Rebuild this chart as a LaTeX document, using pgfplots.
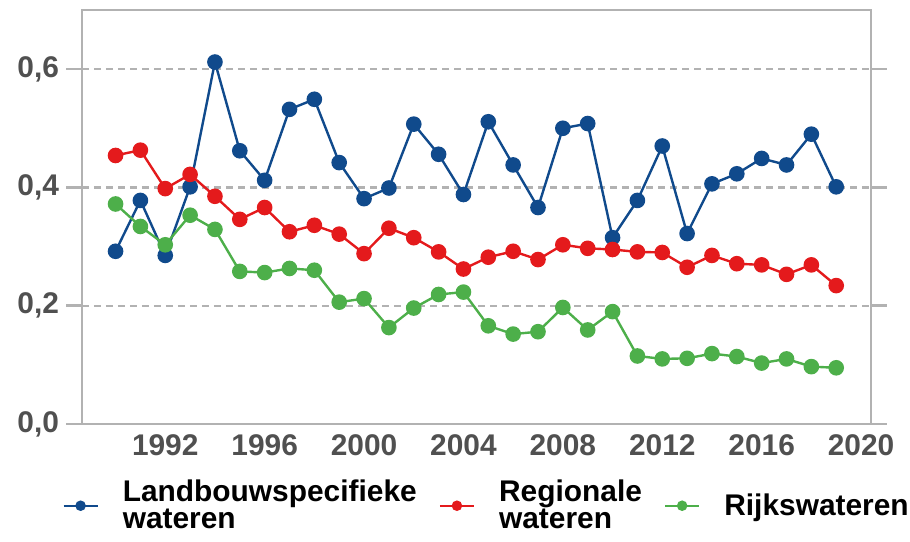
\documentclass[border=0pt]{standalone}
\usepackage{fontspec}
\setmainfont{Liberation Sans}
\usepackage{pgfplots}
\pgfplotsset{compat=1.18}

\definecolor{cblue}{RGB}{16,74,140}
\definecolor{cred}{RGB}{228,26,28}
\definecolor{cgreen}{RGB}{77,175,74}
\definecolor{axgray}{RGB}{178,178,178}
\definecolor{tickgray}{RGB}{80,80,80}

\pgfplotstableread{
year  land   regio  rijk
1990  0.292  0.454  0.372
1991  0.378  0.463  0.334
1992  0.285  0.398  0.303
1993  0.401  0.422  0.353
1994  0.612  0.385  0.329
1995  0.462  0.346  0.258
1996  0.412  0.366  0.256
1997  0.532  0.325  0.263
1998  0.549  0.336  0.260
1999  0.442  0.321  0.206
2000  0.381  0.288  0.212
2001  0.399  0.331  0.163
2002  0.507  0.315  0.196
2003  0.456  0.291  0.219
2004  0.388  0.262  0.223
2005  0.511  0.282  0.166
2006  0.438  0.292  0.152
2007  0.366  0.278  0.156
2008  0.500  0.303  0.197
2009  0.508  0.297  0.159
2010  0.315  0.295  0.190
2011  0.378  0.291  0.115
2012  0.470  0.290  0.110
2013  0.322  0.265  0.111
2014  0.406  0.285  0.119
2015  0.423  0.271  0.114
2016  0.449  0.269  0.103
2017  0.438  0.253  0.110
2018  0.490  0.269  0.097
2019  0.401  0.234  0.095
}\datatable

\begin{document}
\begin{tikzpicture}
\begin{axis}[
    width=394.5bp, height=207bp, scale only axis,
    xmin=1988.65, xmax=2020.4,
    ymin=0, ymax=0.7,
    xtick={1992,1996,...,2020},
    ytick={0,0.2,0.4,0.6},
    axis line style={draw=axgray, line width=1.3bp},
    tick align=outside,
    major tick length=8bp,
    xtick style={draw=none},
    ytick style={draw=axgray, line width=1.3bp},
    /pgf/number format/assume math mode=true,
    ticklabel style={font=\bfseries\fontsize{15}{18}\selectfont, text=tickgray},
    xticklabel style={/pgf/number format/1000 sep={}, yshift=6bp},
    yticklabel style={/pgf/number format/.cd, use comma, fixed, fixed zerofill, precision=1},
    ymajorgrids,
    grid style={draw=axgray, line width=1.1bp, dash pattern=on 3.5bp off 2.5bp},
    every axis plot/.append style={line width=1.2bp, mark=*, mark size=3.3bp},
    legend columns=3,
    legend image post style={mark size=2bp},
    legend style={draw=none, fill=none, at={(0.514,-0.115)}, anchor=north,
        font=\bfseries\fontsize{15}{13.5}\selectfont,
        cells={align=left, anchor=west},
        /tikz/every odd column/.append style={column sep=10bp},
        /tikz/every even column/.append style={column sep=9bp}},
]
\addplot[cblue, mark options={fill=cblue}] table[x=year, y=land] {\datatable};
\addlegendentry{Landbouwspecifieke\\wateren}
\addplot[cred, mark options={fill=cred}] table[x=year, y=regio] {\datatable};
\addlegendentry{Regionale\\wateren}
\addplot[cgreen, mark options={fill=cgreen}] table[x=year, y=rijk] {\datatable};
\addlegendentry{Rijkswateren}
\end{axis}
\pgfresetboundingbox
\path ([xshift=-41bp,yshift=-59bp]current axis.south west) rectangle ([xshift=19.5bp,yshift=5bp]current axis.north east);
\end{tikzpicture}
\end{document}
